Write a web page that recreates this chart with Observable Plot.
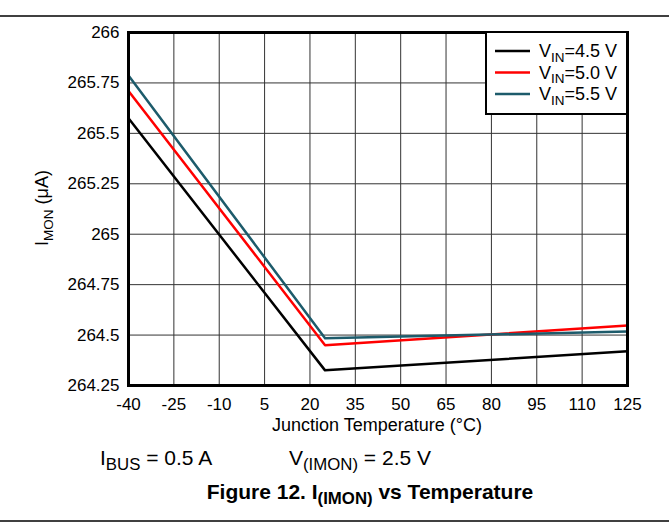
<!DOCTYPE html>
<html><head><meta charset="utf-8">
<script src="https://cdn.jsdelivr.net/npm/d3@7"></script>
<script src="https://cdn.jsdelivr.net/npm/@observablehq/plot@0.6"></script>
<style>body{margin:0;background:#fff;} svg{display:block}</style>
</head><body><div id="c"></div>
<script>
const temps = [-40, 25, 125];
const vin45 = [265.575, 264.325, 264.42];
const vin50 = [265.71, 264.45, 264.547];
const vin55 = [265.787, 264.484, 264.518];
const seriesKeys = ["4.5", "5.0", "5.5"];
const seriesColors = ["#000000", "#ff0000", "#1d5b6b"];
const xTicks = [-40, -25, -10, 5, 20, 35, 50, 65, 80, 95, 110, 125];
const yTicks = [264.25, 264.5, 264.75, 265, 265.25, 265.5, 265.75, 266];

const seriesVals = [vin45, vin50, vin55];
const data = [];
seriesKeys.forEach((k, i) => temps.forEach((t, j) => data.push({s: k, t, v: seriesVals[i][j]})));

const FONT = "'Liberation Sans', Arial, Helvetica, sans-serif";
const plot = Plot.plot({
  width: 669, height: 529,
  marginLeft: 128, marginRight: 42, marginTop: 32, marginBottom: 144,
  style: {fontFamily: FONT, fontSize: "17px", background: "#fff", color: "#000"},
  x: {domain: [-40, 125], label: null},
  y: {domain: [264.25, 266], label: null},
  color: {domain: seriesKeys, range: seriesColors},
  marks: [
    Plot.gridX(xTicks, {stroke: "#333", strokeOpacity: 1, strokeWidth: 1}),
    Plot.gridY(yTicks, {stroke: "#333", strokeOpacity: 1, strokeWidth: 1}),
    Plot.axisX(xTicks, {tickSize: 0, tickPadding: 12, fontSize: 17, label: null, tickFormat: d => String(d)}),
    Plot.axisY(yTicks, {tickSize: 0, tickPadding: 9, fontSize: 17, label: null, tickFormat: d => String(d)}),
    Plot.line(data, {x: "t", y: "v", z: "s", stroke: "s", strokeWidth: 2.5}),
    Plot.frame({stroke: "#000", strokeWidth: 3})
  ]
});
document.getElementById("c").appendChild(plot);

const svg = d3.select(plot);
function rich(g, x, y, parts, opts = {}) {
  const sz = opts.size || 18;
  const sc = opts.subScale || 0.75;
  const t = g.append("text").attr("x", x).attr("y", y)
    .attr("font-family", FONT).attr("font-size", sz)
    .attr("font-weight", opts.weight || "normal")
    .attr("text-anchor", opts.anchor || "start").attr("fill", "#000");
  if (opts.transform) t.attr("transform", opts.transform);
  let sub = false;
  parts.forEach(([txt, isSub]) => {
    const ts = t.append("tspan").text(txt);
    if (isSub) ts.attr("font-size", sz * sc);
    if (isSub && !sub) { ts.attr("dy", sz * 0.25); sub = true; }
    else if (!isSub && sub) { ts.attr("dy", -sz * 0.25); sub = false; }
  });
  return t;
}
const g = svg.append("g");
// horizontal rules
g.append("line").attr("x1", 0).attr("x2", 669).attr("y1", 16).attr("y2", 16).attr("stroke", "#000").attr("stroke-width", 1.5);
g.append("line").attr("x1", 0).attr("x2", 669).attr("y1", 521).attr("y2", 521).attr("stroke", "#000").attr("stroke-width", 1.5);

// legend
g.append("rect").attr("x", 486).attr("y", 32).attr("width", 141).attr("height", 82)
  .attr("fill", "#fff").attr("stroke", "#000").attr("stroke-width", 2);
seriesKeys.forEach((k, i) => {
  const y = 51 + i * 21.5;
  g.append("line").attr("x1", 495).attr("x2", 530).attr("y1", y).attr("y2", y)
    .attr("stroke", seriesColors[i]).attr("stroke-width", 2.5);
  rich(g, 539, y + 6, [["V"], ["IN", true], ["=" + k + " V"]], {size: 18});
});

// axis titles
rich(g, 377, 431, [["Junction Temperature (°C)"]], {size: 18, anchor: "middle"});
rich(g, 0, 0, [["I"], ["MON", true], [" (μA)"]], {size: 18, anchor: "middle", transform: "translate(48,208) rotate(-90)"});

// conditions
rich(g, 100, 465, [["I"], ["BUS", true], [" = 0.5 A"]], {size: 21, subScale: 0.8});
rich(g, 289, 465, [["V"], ["(IMON)", true], [" = 2.5 V"]], {size: 21, subScale: 0.8});

// caption
rich(g, 370, 499, [["Figure 12. I"], ["(IMON)", true], [" vs Temperature"]], {size: 21, weight: "bold", anchor: "middle", subScale: 0.8});
</script>
</body></html>
